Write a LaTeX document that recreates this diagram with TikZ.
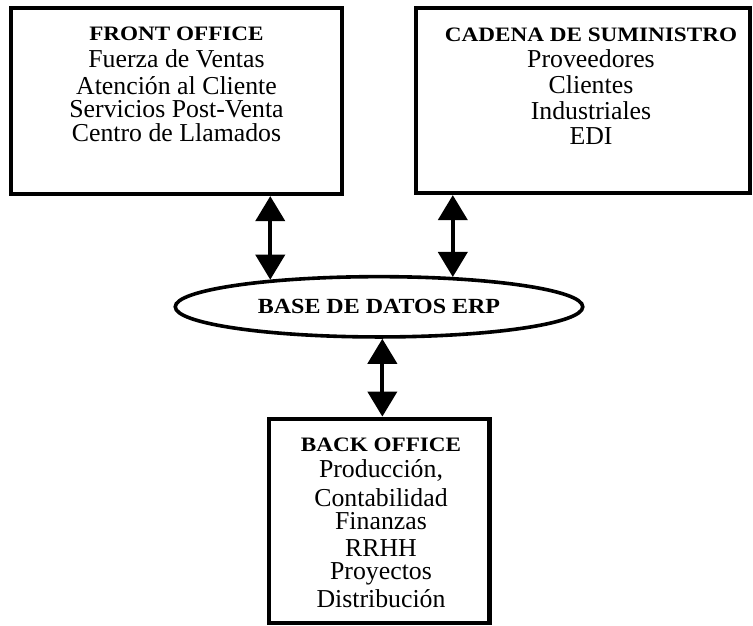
\documentclass[tikz,border=0pt]{standalone}
\usepackage{fontspec}
\setmainfont{Liberation Serif}
\usetikzlibrary{arrows.meta,shapes.geometric}
\newcommand\myhdr[1]{\scalebox{1.13}[1]{\fontsize{20.5}{23.3}\selectfont\bfseries #1}}
\newcommand\mytight{\setlength{\lineskiplimit}{-100pt}\setlength{\lineskip}{0pt}}
\tikzset{
  box/.style={draw, rectangle, line width=4.2pt, inner sep=0pt},
  boxtext/.style={anchor=north, align=center, inner sep=0pt, outer sep=0pt,
    font={\fontsize{25.8}{23.3}\selectfont\mytight}},
  dbl/.style={line width=4pt,
    {Triangle[length=25pt,width=29pt]}-{Triangle[length=25pt,width=29pt]}}
}
\begin{document}
\begin{tikzpicture}[x=1pt,y=-1pt]
\useasboundingbox (0,0) rectangle (753,625);
% boxes
\node[box, minimum width=330.9pt, minimum height=185.7pt] (front) at (176.25,101.15) {};
\node[boxtext] (fronttxt) at (176.5,26.8) {\myhdr{FRONT OFFICE}\\[4.3pt] Fuerza de Ventas\\[3.4pt] Atención al Cliente\\ Servicios Post-Venta\\ Centro de Llamados};
\node[box, minimum width=334.2pt, minimum height=184.7pt] (supply) at (582.9,100.65) {};
\node[boxtext] (supplytxt) at (591,28.4) {\myhdr{CADENA DE SUMINISTRO}\\[2.7pt] Proveedores\\[2.7pt] Clientes\\[2.4pt] Industriales\\[1.7pt] EDI};
\node[box, minimum width=220.7pt, minimum height=204.3pt] (back) at (379.15,520.85) {};
\node[boxtext] (backtxt) at (381,438.4) {\myhdr{BACK OFFICE}\\[2.7pt] Producción,\\[5.1pt] Contabilidad\\ Finanzas\\[3.4pt] RRHH\\ Proyectos\\[4.4pt] Distribución};
% ellipse
\node[draw, ellipse, line width=3.6pt, minimum width=407.5pt, minimum height=60.3pt, inner sep=0pt] (erp) at (379,306.8) {\scalebox{1.11}[1]{\fontsize{21.6}{24}\selectfont\bfseries BASE DE DATOS ERP}};
% arrows
\draw[dbl] (front.south -| erp.166) -- (erp.166);
\draw[dbl] (supply.south -| erp.22) -- (erp.22);
\draw[dbl] (erp.-84.6) -- (back.north -| erp.-84.6);
\end{tikzpicture}
\end{document}
